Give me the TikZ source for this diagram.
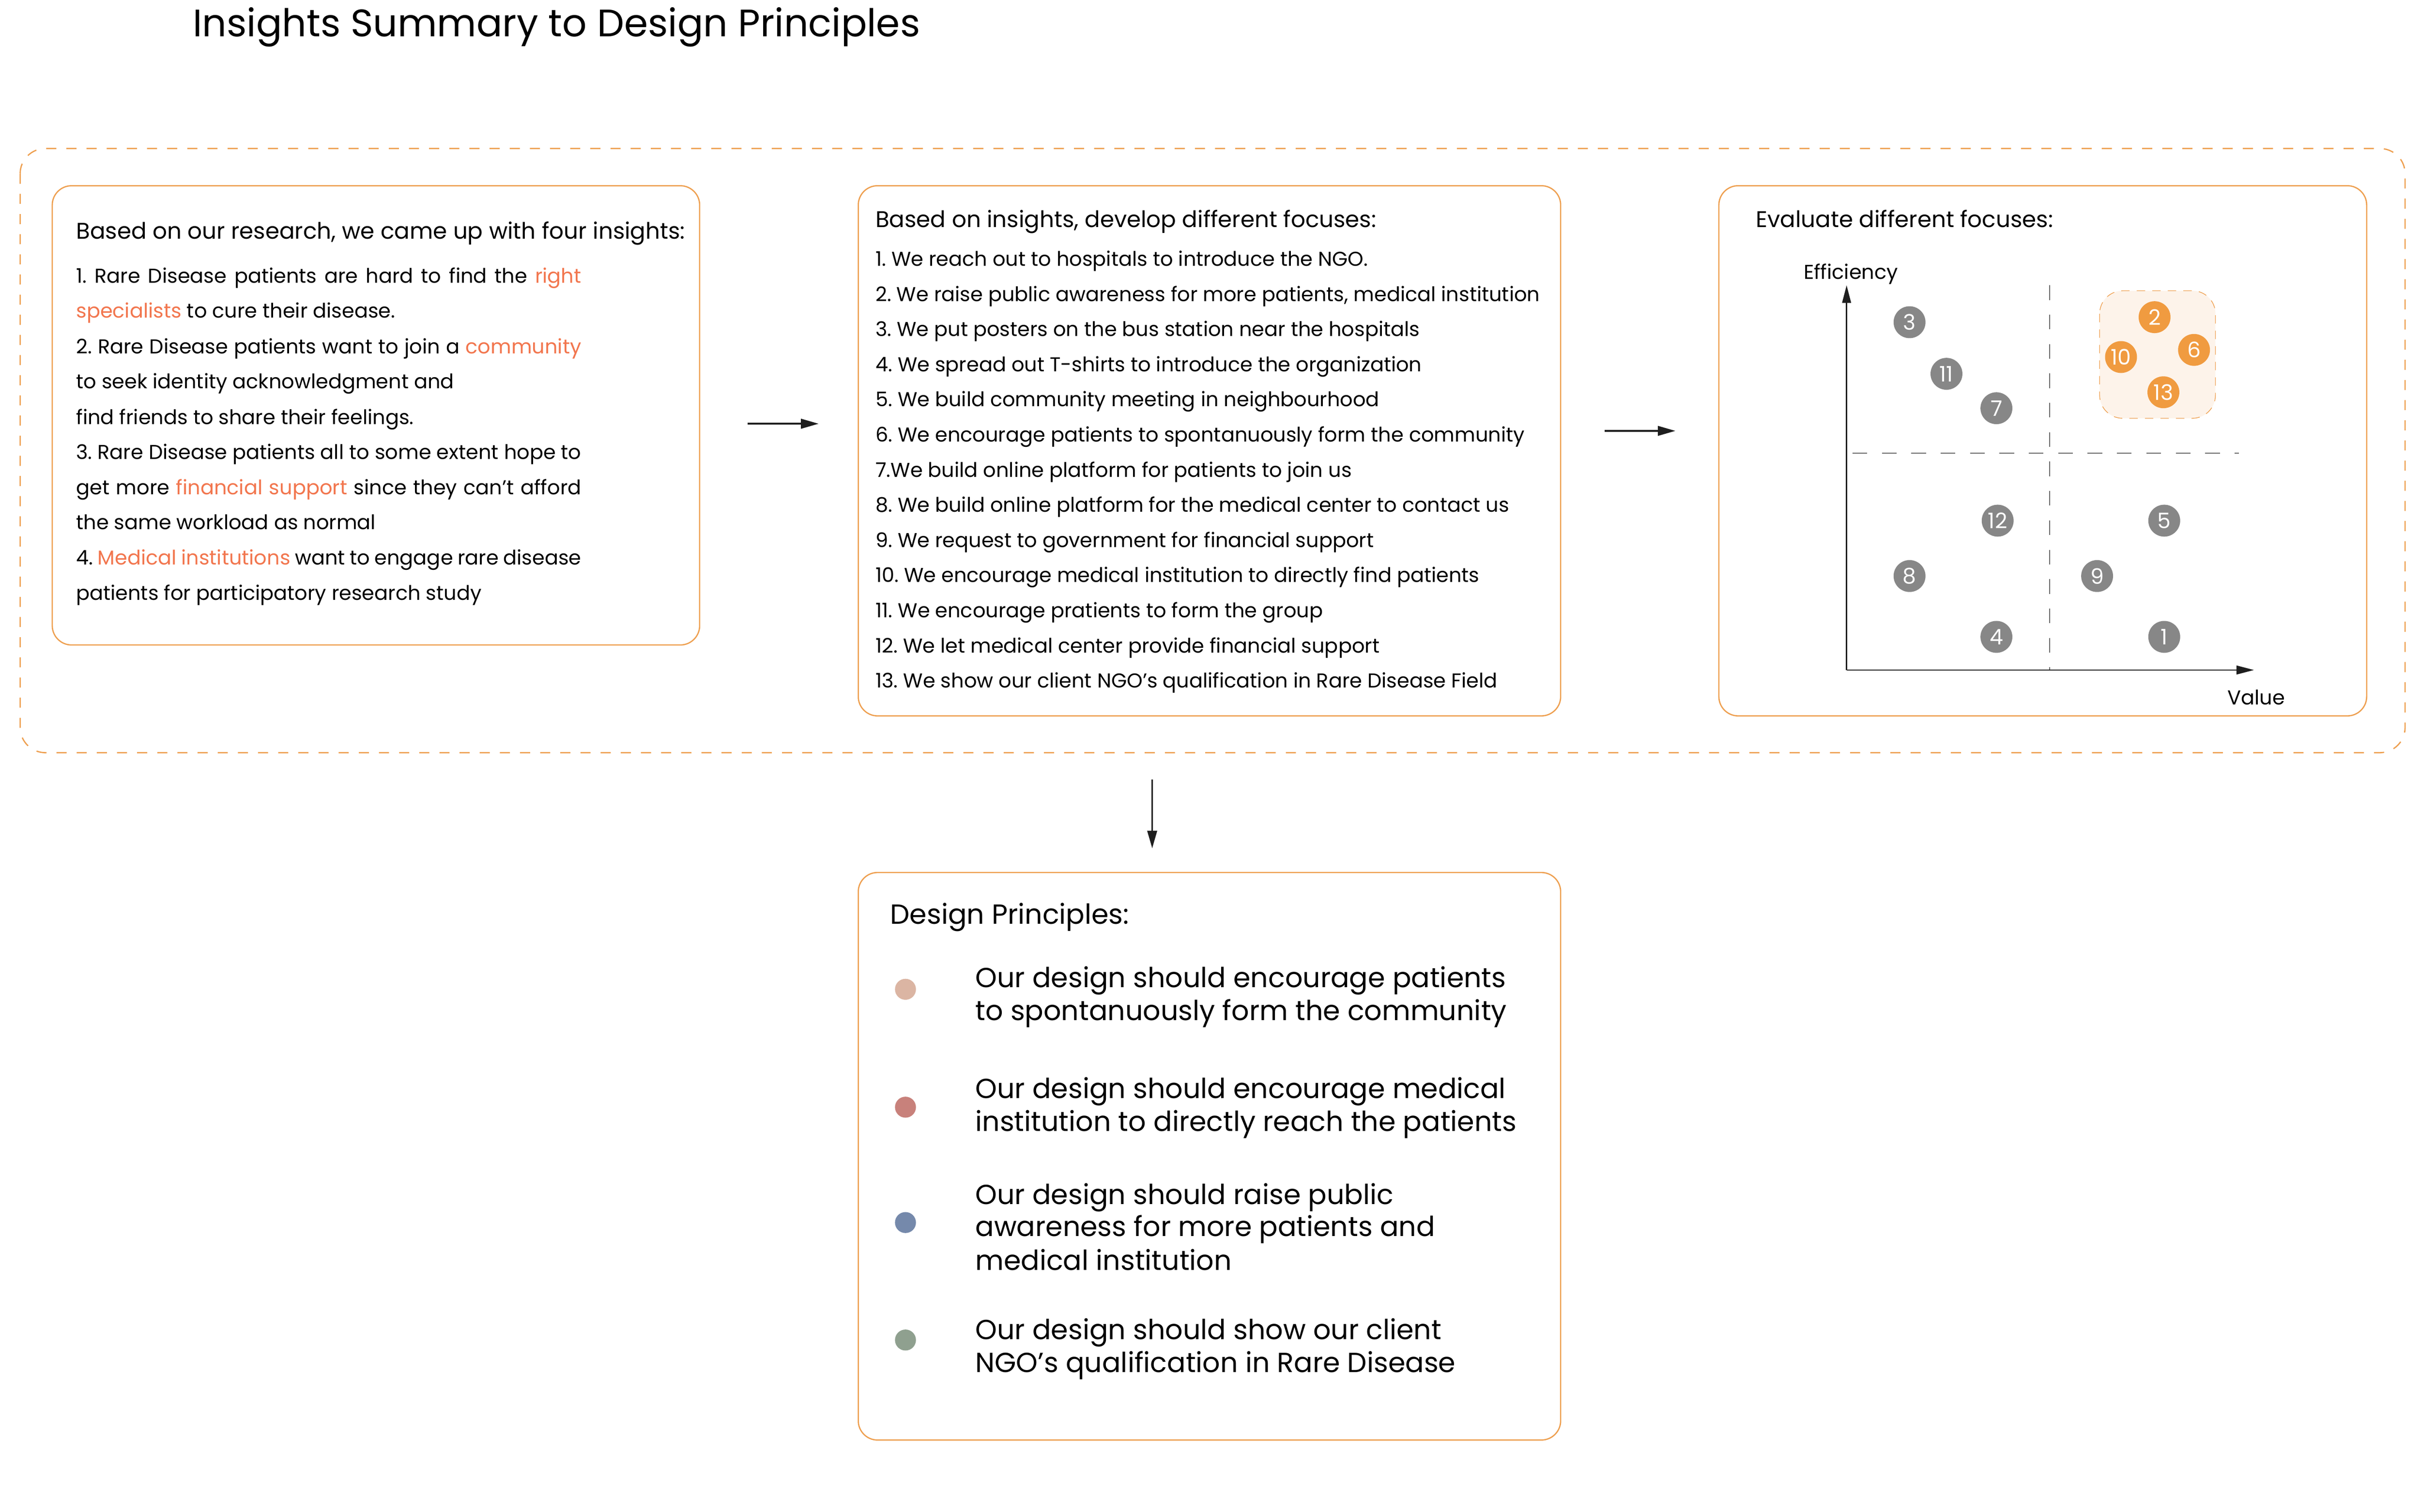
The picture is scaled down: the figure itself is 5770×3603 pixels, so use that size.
\documentclass[tikz,border=0pt]{standalone}
\usepackage{fontspec}
\setmainfont{Poppins}
\usetikzlibrary{arrows.meta}
\definecolor{boxor}{HTML}{EE9F4F}
\definecolor{hl}{HTML}{F2764E}
\definecolor{dotgray}{HTML}{878787}
\definecolor{dotor}{HTML}{F09B40}
\definecolor{hlfill}{HTML}{FDF3EA}
\definecolor{pa}{HTML}{DBB5A3}
\definecolor{pb}{HTML}{C8817B}
\definecolor{pc}{HTML}{7589AB}
\definecolor{pd}{HTML}{8FA08F}
\definecolor{quad}{HTML}{666666}
\definecolor{ink}{HTML}{1E1E1E}
\frenchspacing
\begin{document}
\begin{tikzpicture}[x=0.01cm,y=-0.01cm,
  box/.style={draw=boxor, line width=0.85pt, rounded corners=0.46cm, inner sep=0pt},
  txt/.style={anchor=base west, inner sep=0pt, text=black},
  ttl/.style={txt, font=\fontsize{25.95}{30}\selectfont},
  hdr/.style={txt, font=\fontsize{15.35}{19}\selectfont},
  itm/.style={txt, font=\fontsize{13.6}{16}\selectfont},
  prn/.style={txt, font=\fontsize{18.72}{22}\selectfont},
  gdot/.style={circle, fill=dotgray, minimum size=0.76cm, inner sep=0pt, text=white, font=\fontsize{14.5}{16}\selectfont},
  odot/.style={gdot, fill=dotor},
  pdot/.style={circle, minimum size=0.5cm, inner sep=0pt},
  arr/.style={draw=ink, line width=1.14pt, -{Triangle[length=0.42cm,width=0.23cm]}},
  axis/.style={draw=ink, line width=0.85pt, -{Triangle[length=0.42cm,width=0.21cm]}},
  quadl/.style={draw=quad, line width=0.57pt, dash pattern=on 0.35cm off 0.35cm}
]
\fill[white] (0,0) rectangle (5770,3603);
\useasboundingbox (0,0) rectangle (5770,3603);

% title
\node[ttl] (title) at (459,87) {Insights Summary to Design Principles};

% outer dashed frame
\draw[draw=boxor, line width=0.85pt, dash pattern=on 0.24cm off 0.24cm, rounded corners=0.6cm] (48,354) rectangle (5732,1794);

% boxes
\node[box, minimum width=15.42cm, minimum height=10.94cm] (b1) at (896,990) {};
\node[box, minimum width=16.73cm, minimum height=12.63cm] (b2) at (2882.5,1074.5) {};
\node[box, minimum width=15.43cm, minimum height=12.63cm] (b3) at (4868.5,1074.5) {};
\node[box, minimum width=16.73cm, minimum height=13.52cm] (b4) at (2882.5,2756) {};

% box 1
\node[hdr] (h1) at (181,569) {Based on our research, we came up with four insights:};
\node[itm] (i1) at (181,675) {\makebox[12.03cm][s]{1. Rare Disease patients are hard to find the \textcolor{hl}{right}}};
\node[itm] (i2) at (181,758) {\textcolor{hl}{specialists} to cure their disease.};
\node[itm] (i3) at (181,843) {\makebox[12.03cm][s]{2. Rare Disease patients want to join a \textcolor{hl}{community}}};
\node[itm] (i4) at (181,926) {to seek identity acknowledgment and};
\node[itm] (i5) at (181,1011) {find friends to share their feelings.};
\node[itm] (i6) at (181,1094) {\makebox[12.03cm][s]{3. Rare Disease patients all to some extent hope to}};
\node[itm] (i7) at (181,1179) {\makebox[12.03cm][s]{get more \textcolor{hl}{financial support} since they can't afford}};
\node[itm] (i8) at (181,1262) {the same workload as normal};
\node[itm] (i9) at (181,1346) {\makebox[12.03cm][s]{4. \textcolor{hl}{Medical institutions} want to engage rare disease}};
\node[itm] (i10) at (181,1430) {patients for participatory research study};

% box 2
\node[hdr] (h2) at (2086,542) {Based on insights, develop different focuses:};
\foreach \t [count=\i] in {
  {1. We reach out to hospitals to introduce the NGO.},
  {2. We raise public awareness for more patients, medical institution},
  {3. We put posters on the bus station near the hospitals},
  {4. We spread out T-shirts to introduce the organization},
  {5. We build community meeting in neighbourhood},
  {6. We encourage patients to spontanuously form the community},
  {7.We build online platform for patients to join us},
  {8. We build online platform for the medical center to contact us},
  {9. We request to government for financial support},
  {10. We encourage medical institution to directly find patients},
  {11. We encourage pratients to form the group},
  {12. We let medical center provide financial support},
  {13. We show our client NGO’s qualification in Rare Disease Field}}
  \node[itm] (f\i) at (2086,{634+83.8*(\i-1)}) {\t};

% box 3
\node[hdr] (h3) at (4184,542) {Evaluate different focuses:};
\node[itm] (eff) at (4298,665) {Efficiency};
\node[itm] (val) at (5308,1680) {Value};
\coordinate (org) at (4401,1597);
\coordinate (ytip) at (4401,680);
\coordinate (xtip) at (5372,1597);
\draw[quadl] (4885,680) -- (4885,1597);
\draw[quadl] (4415,1080) -- (5336,1080);
\draw[axis] (org) -- (ytip);
\draw[axis] (org) -- (xtip);
\draw[draw=boxor, fill=hlfill, line width=0.45pt, dash pattern=on 0.2cm off 0.17cm, rounded corners=0.55cm] (5004,693) rectangle (5280,997);

\node[gdot] (c3) at (4551,768) {3};
\node[gdot] (c11) at (4639,891) {11};
\node[gdot] (c7) at (4758,973) {7};
\node[gdot] (c12) at (4761,1241) {12};
\node[gdot] (c5) at (5158,1241) {5};
\node[gdot] (c8) at (4551,1373) {8};
\node[gdot] (c9) at (4998,1373) {9};
\node[gdot] (c4) at (4758,1518) {4};
\node[gdot] (c1) at (5158,1518) {1};
\node[odot] (c2) at (5135,756) {2};
\node[odot] (c6) at (5229,834) {6};
\node[odot] (c10) at (5055,851) {10};
\node[odot] (c13) at (5156,935) {13};

% box 4
\node[prn] (h4) at (2121,2202) {Design Principles:};
\node[pdot, fill=pa] (d1) at (2158,2358) {};
\node[pdot, fill=pb] (d2) at (2158,2639) {};
\node[pdot, fill=pc] (d3) at (2158,2914) {};
\node[pdot, fill=pd] (d4) at (2158,3194) {};
\node[prn] (p1a) at (2324,2354) {Our design should encourage patients};
\node[prn] (p1b) at (2324,2432) {to spontanuously form the community};
\node[prn] (p2a) at (2324,2618) {Our design should encourage medical};
\node[prn] (p2b) at (2324,2696) {institution to directly reach the patients};
\node[prn] (p3a) at (2324,2870) {Our design should raise public};
\node[prn] (p3b) at (2324,2947) {awareness for more patients and};
\node[prn] (p3c) at (2324,3028) {medical institution};
\node[prn] (p4a) at (2324,3193) {Our design should show our client};
\node[prn] (p4b) at (2324,3271) {NGO’s qualification in Rare Disease};

% arrows
\coordinate (a1s) at (1782,1010);
\coordinate (a1e) at (1951,1010);
\coordinate (a2s) at (3824,1027);
\coordinate (a2e) at (3993,1027);
\coordinate (a3s) at (2746,1858);
\coordinate (a3e) at (2746,2022);
\draw[arr] (a1s) -- (a1e);
\draw[arr] (a2s) -- (a2e);
\draw[arr] (a3s) -- (a3e);
\end{tikzpicture}
\end{document}
